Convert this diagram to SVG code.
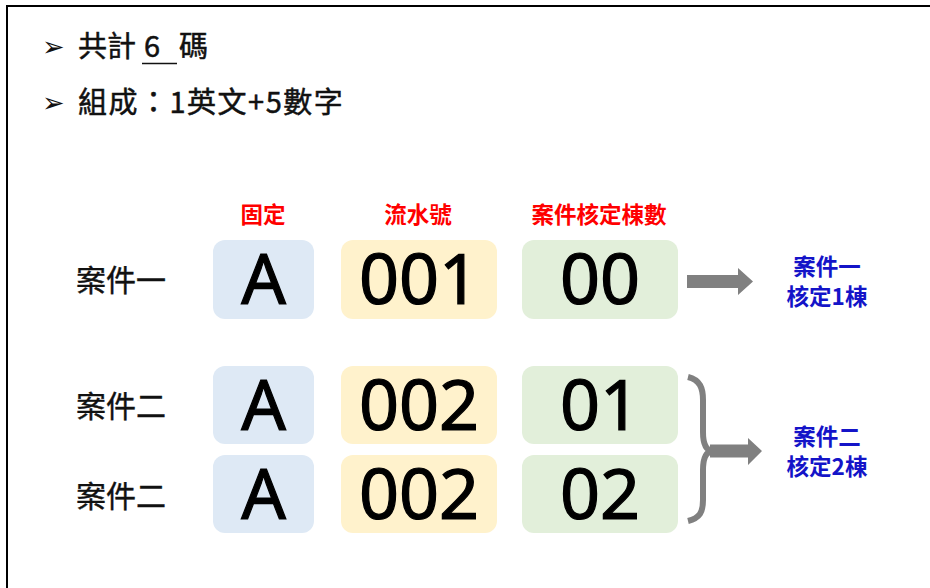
<svg xmlns="http://www.w3.org/2000/svg" width="930" height="588" viewBox="0 0 930 588">
<style>
.hdr{font-family:"Noto Sans CJK TC","Noto Sans",sans-serif;font-size:29px;fill:#111;stroke:#111;stroke-width:0.5}
.bul{font-family:"DejaVu Sans",sans-serif;font-size:27px;fill:#111}
.red{font-family:"Noto Sans CJK TC",sans-serif;font-size:22.5px;font-weight:bold;fill:#FF0000;text-anchor:middle}
.case{font-family:"Noto Sans CJK TC",sans-serif;font-size:30px;fill:#111;text-anchor:middle;dominant-baseline:central;stroke:#111;stroke-width:0.4}
.big{font-family:"Noto Sans","Noto Sans CJK TC",sans-serif;font-size:70px;fill:#000;text-anchor:middle;stroke:#000;stroke-width:1.2}
.blue{font-family:"Noto Sans CJK TC",sans-serif;font-size:22.5px;font-weight:bold;fill:#1414C8;text-anchor:middle}
.bA{fill:#DEE9F5}
.bN{fill:#FFF2CC}
.bC{fill:#E2EFDA}
.gray{fill:#808080}
</style>
<rect x="0" y="0" width="930" height="588" fill="#fff"/>
<path d="M7,588 V6 H930" fill="none" stroke="#000" stroke-width="2"/>

<g id="header">
  <text class="bul" x="42" y="56">➢</text>
  <text class="hdr" x="78" y="57">共計</text>
  <text class="hdr" x="152" y="57" text-anchor="middle">6</text>
  <line x1="142" y1="63.5" x2="177" y2="63.5" stroke="#111" stroke-width="1.5"/>
  <text class="hdr" x="179" y="57">碼</text>
  <text class="bul" x="42" y="112">➢</text>
  <text class="hdr" x="78" y="113" letter-spacing="1.5">組成：1英文+5數字</text>
</g>

<g id="labels">
  <text class="red" x="263" y="223">固定</text>
  <text class="red" x="418" y="223">流水號</text>
  <text class="red" x="599" y="223">案件核定棟數</text>
</g>

<g id="row1">
  <text class="case" x="121" y="278">案件一</text>
  <rect class="bA" x="213" y="240" width="101" height="79" rx="12"/>
  <text class="big" x="263.5" y="304">A</text>
  <rect class="bN" x="341" y="240" width="156" height="79" rx="12"/>
  <text class="big" x="419" y="304">001</text>
  <rect class="bC" x="522" y="240" width="156" height="79" rx="12"/>
  <text class="big" x="600" y="304">00</text>
</g>

<g id="row2">
  <text class="case" x="121" y="404">案件二</text>
  <rect class="bA" x="213" y="366" width="101" height="78" rx="12"/>
  <text class="big" x="263.5" y="430">A</text>
  <rect class="bN" x="341" y="366" width="156" height="78" rx="12"/>
  <text class="big" x="419" y="430">002</text>
  <rect class="bC" x="522" y="366" width="156" height="78" rx="12"/>
  <text class="big" x="600" y="430">01</text>
</g>

<g id="row3">
  <text class="case" x="121" y="494">案件二</text>
  <rect class="bA" x="213" y="455" width="101" height="78" rx="12"/>
  <text class="big" x="263.5" y="519">A</text>
  <rect class="bN" x="341" y="455" width="156" height="78" rx="12"/>
  <text class="big" x="419" y="519">002</text>
  <rect class="bC" x="522" y="455" width="156" height="78" rx="12"/>
  <text class="big" x="600" y="519">02</text>
</g>

<g id="result1">
  <text class="blue" x="827" y="275">案件一</text>
  <text class="blue" x="827" y="305">核定1棟</text>
</g>
<g id="result2">
  <text class="blue" x="827" y="445">案件二</text>
  <text class="blue" x="827" y="475">核定2棟</text>
</g>

<g id="connectors">
  <polygon class="gray" points="687,275 738,275 738,268 753,281.5 738,295 738,288 687,288"/>
  <path d="M688,377 C700,380 703,388 703,400 L703,432 C703,444 706,450 712,451 C706,452 703,458 703,470 L703,500 C703,512 700,518 688,521" fill="none" stroke="#808080" stroke-width="6"/>
  <polygon class="gray" points="710,444.5 748,444.5 748,438 762,451 748,465 748,457.5 710,457.5"/>
</g>
</svg>
